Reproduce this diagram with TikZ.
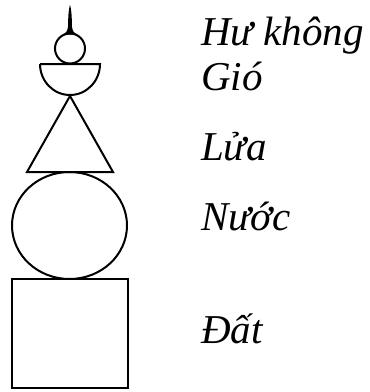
\documentclass[tikz,border=0pt]{standalone}
\usepackage{fontspec}
\setmainfont{Liberation Serif}
\usepackage{tikz}

\begin{document}
\begin{tikzpicture}[
    x=1pt, y=-1pt,
    stupaline/.style={
        draw=black,
        line width=2pt
    },
    elemlabel/.style={
        anchor=base west,
        inner sep=0pt,
        font=\fontsize{41}{48}\selectfont\itshape
    }
]
    \useasboundingbox (0,0) rectangle (370,392);

    % --- STUPA ---
    \fill (70,5) .. controls (71,8) and (71.9,14) .. (71.9,26)
        .. controls (72.2,31) and (74,33) .. (77.5,34.5)
        -- (62.5,34.5) .. controls (66,33) and (67.8,31) .. (68.1,26)
        .. controls (68.1,14) and (69,8) .. (70,5) -- cycle;
    \draw[stupaline] (70,48.5) circle (15);
    \draw[stupaline] (40,64) -- (100,64) arc[start angle=0, end angle=180, x radius=30, y radius=31];
    \draw[stupaline] (70,96) -- (113,172) -- (27,172) -- cycle;
    \draw[stupaline] (69.5,225.5) ellipse[x radius=57.5, y radius=53.5];
    \draw[stupaline] (12,279) rectangle (128,388);

    % --- LABELS ---
    \node[elemlabel] (hukhong) at (201,45) {Hư không};
    \node[elemlabel] (gio) at (201,90) {Gió};
    \node[elemlabel] (lua) at (201,160) {Lửa};
    \node[elemlabel] (nuoc) at (201,230) {Nước};
    \node[elemlabel] (dat) at (201,343) {Đất};
\end{tikzpicture}
\end{document}
